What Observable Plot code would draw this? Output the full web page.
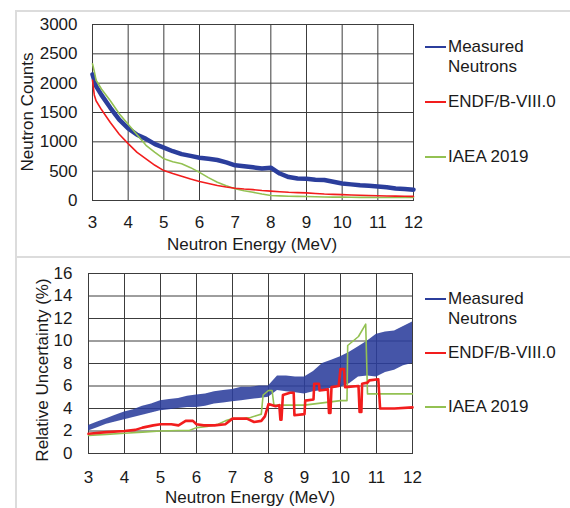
<!DOCTYPE html>
<html>
<head>
<meta charset="utf-8">
<script src="https://cdn.jsdelivr.net/npm/d3@7"></script>
<script src="https://cdn.jsdelivr.net/npm/@observablehq/plot@0.6"></script>
<style>
  html, body { margin: 0; padding: 0; background: #fff; }
  #wrap { position: relative; width: 570px; height: 508px; overflow: hidden; font-family: "Liberation Sans", Arial, sans-serif; color: #1a1a1a; }
  .abs { position: absolute; }
  .lbl { position: absolute; font-size: 17px; white-space: nowrap; }
  .leg { position: absolute; font-size: 17px; line-height: 20px; white-space: nowrap; }
  .sw { position: absolute; height: 2px; width: 21px; }
</style>
</head>
<body>
<div id="wrap"></div>
<script>
// ---------- Top panel: neutron counts ----------
const countsE = [3, 3.05, 3.1, 3.25, 3.5, 3.75, 4, 4.25, 4.5, 4.75, 5, 5.25, 5.5, 5.75, 6, 6.25, 6.5, 6.75, 7, 7.25, 7.5, 7.75, 8, 8.25, 8.5, 8.75, 9, 9.25, 9.5, 9.75, 10, 10.25, 10.5, 10.75, 11, 11.25, 11.5, 11.75, 12];
const measuredCounts = [2150, 2050, 1950, 1800, 1580, 1380, 1230, 1120, 1050, 960, 900, 840, 790, 760, 730, 710, 690, 650, 600, 585, 565, 545, 560, 460, 400, 375, 370, 355, 350, 320, 290, 275, 260, 250, 240, 225, 205, 195, 185];
const endfCounts = [2050, 1800, 1700, 1550, 1330, 1130, 970, 820, 710, 600, 510, 460, 415, 365, 325, 290, 255, 230, 210, 195, 185, 170, 160, 150, 140, 135, 130, 120, 110, 105, 100, 95, 90, 85, 80, 77, 75, 72, 70];
const iaeaCounts = [2330, 2200, 2050, 1900, 1700, 1480, 1300, 1120, 940, 820, 710, 660, 625, 560, 480, 390, 310, 250, 200, 165, 140, 110, 85, 78, 72, 70, 68, 64, 60, 58, 57, 55, 54, 53, 52, 51, 50, 50, 50];
const countTicks = [0, 500, 1000, 1500, 2000, 2500, 3000];

// ---------- Bottom panel: relative uncertainty ----------
const uncE = [3, 3.25, 3.5, 3.75, 4, 4.25, 4.5, 4.75, 5, 5.25, 5.5, 5.75, 6, 6.25, 6.5, 6.75, 7, 7.25, 7.5, 7.75, 8, 8.25, 8.5, 8.75, 9, 9.25, 9.5, 9.75, 10, 10.25, 10.5, 10.75, 11, 11.25, 11.5, 11.75, 12];
const measuredUncLow = [2.0, 2.3, 2.6, 2.8, 3.0, 3.2, 3.4, 3.6, 3.8, 3.9, 4.0, 4.1, 4.1, 4.2, 4.4, 4.5, 4.6, 4.7, 4.8, 4.9, 5.0, 5.6, 5.5, 5.4, 5.3, 5.5, 5.6, 5.8, 5.9, 6.2, 6.8, 6.9, 6.8, 7.2, 7.4, 7.8, 8.0];
const measuredUncHigh = [2.5, 2.8, 3.1, 3.4, 3.7, 3.9, 4.2, 4.4, 4.7, 4.8, 4.9, 5.1, 5.2, 5.3, 5.5, 5.6, 5.7, 5.9, 5.9, 6.0, 6.0, 6.9, 6.9, 6.8, 6.8, 7.3, 8.0, 8.3, 8.6, 9.0, 9.5, 10.0, 10.6, 10.8, 10.9, 11.3, 11.7];
const endfUncE = [3, 3.5, 4, 4.3, 4.5, 4.8, 5, 5.3, 5.5, 5.7, 5.9, 6.0, 6.2, 6.5, 6.8, 7.0, 7.4, 7.6, 7.8, 7.9, 8.0, 8.2, 8.3, 8.33, 8.36, 8.4, 8.6, 8.7, 8.72, 9.0, 9.02, 9.25, 9.27, 9.4, 9.42, 9.65, 9.68, 9.72, 9.75, 9.95, 10.0, 10.1, 10.13, 10.5, 10.53, 10.58, 10.6, 10.75, 10.8, 11.05, 11.1, 11.5, 12];
const endfUnc = [1.75, 1.9, 2.0, 2.1, 2.3, 2.5, 2.6, 2.6, 2.5, 2.9, 2.9, 2.6, 2.5, 2.5, 2.6, 3.1, 3.1, 2.8, 2.9, 3.3, 4.4, 4.2, 4.3, 3.0, 3.0, 5.2, 5.4, 5.4, 3.4, 3.5, 4.7, 4.8, 6.2, 6.2, 5.6, 5.7, 3.6, 3.6, 5.9, 6.0, 7.5, 7.5, 5.9, 6.0, 3.7, 3.7, 6.2, 6.3, 6.5, 6.6, 4.0, 4.0, 4.1];
const iaeaUncE = [3, 3.5, 4, 4.5, 5, 5.5, 5.8, 6.0, 6.3, 6.6, 6.8, 7.0, 7.3, 7.5, 7.7, 7.8, 7.85, 8.0, 8.1, 8.15, 8.5, 9.0, 9.5, 10.0, 10.18, 10.2, 10.5, 10.7, 10.75, 11, 12];
const iaeaUnc = [1.6, 1.7, 1.8, 1.9, 2.0, 2.05, 2.05, 2.3, 2.4, 2.6, 2.9, 3.1, 3.1, 3.2, 3.4, 3.5, 5.2, 5.6, 5.6, 4.3, 4.3, 4.3, 4.5, 4.7, 4.7, 9.6, 10.4, 11.5, 5.3, 5.3, 5.3];
const uncTicks = [0, 2, 4, 6, 8, 10, 12, 14, 16];

const energyTicks = [3, 4, 5, 6, 7, 8, 9, 10, 11, 12];
const seriesNames = ["Measured Neutrons", "ENDF/B-VIII.0", "IAEA 2019"];
const colors = { blue: "#2b3e9c", red: "#f21d1d", green: "#93c152" };

const wrap = document.getElementById("wrap");
const font = "'Liberation Sans', Arial, sans-serif";
const gridColor = "#3c3c3c";

function zip(xs, ys) { return xs.map((x, i) => ({ x, y: ys[i] })); }

// Top chart
const top1 = Plot.plot({
  width: 570, height: 250,
  marginLeft: 92, marginRight: 157, marginTop: 24, marginBottom: 50,
  style: { fontFamily: font, fontSize: "17px", color: "#1a1a1a", background: "transparent" },
  x: { domain: [3, 12], ticks: energyTicks, tickFormat: d => String(d), label: null, tickSize: 0, tickPadding: 15 },
  y: { domain: [0, 3000], ticks: countTicks, tickFormat: d => String(d), label: null, tickSize: 0, tickPadding: 15 },
  marks: [
    Plot.gridX(energyTicks, { stroke: gridColor, strokeOpacity: 1, strokeWidth: 1 }),
    Plot.gridY(countTicks, { stroke: gridColor, strokeOpacity: 1, strokeWidth: 1 }),
    Plot.frame({ stroke: gridColor }),
    Plot.line(zip(countsE, measuredCounts), { x: "x", y: "y", stroke: colors.blue, strokeWidth: 4.5 }),
    Plot.line(zip(countsE, iaeaCounts), { x: "x", y: "y", stroke: colors.green, strokeWidth: 1.6 }),
    Plot.line(zip(countsE, endfCounts), { x: "x", y: "y", stroke: colors.red, strokeWidth: 1.6 })
  ]
});
top1.style.position = "absolute"; top1.style.left = "0px"; top1.style.top = "0px";
wrap.appendChild(top1);

// Bottom chart
const bot = Plot.plot({
  width: 570, height: 258,
  marginLeft: 88, marginRight: 158, marginTop: 23, marginBottom: 55,
  style: { fontFamily: font, fontSize: "17px", color: "#1a1a1a", background: "transparent" },
  x: { domain: [3, 12], ticks: energyTicks, tickFormat: d => String(d), label: null, tickSize: 0, tickPadding: 17 },
  y: { domain: [0, 16], ticks: uncTicks, tickFormat: d => String(d), label: null, tickSize: 0, tickPadding: 16 },
  marks: [
    Plot.gridX(energyTicks, { stroke: gridColor, strokeOpacity: 1, strokeWidth: 1 }),
    Plot.gridY(uncTicks, { stroke: gridColor, strokeOpacity: 1, strokeWidth: 1 }),
    Plot.frame({ stroke: gridColor }),
    Plot.areaY(uncE.map((x, i) => ({ x, lo: measuredUncLow[i], hi: measuredUncHigh[i] })), { x: "x", y1: "lo", y2: "hi", fill: colors.blue, fillOpacity: 0.88 }),
    Plot.line(zip(iaeaUncE, iaeaUnc), { x: "x", y: "y", stroke: colors.green, strokeWidth: 1.6 }),
    Plot.line(zip(endfUncE, endfUnc), { x: "x", y: "y", stroke: colors.red, strokeWidth: 2.6 })
  ]
});
bot.style.position = "absolute"; bot.style.left = "0px"; bot.style.top = "250px";
wrap.appendChild(bot);

// Figure frame lines
function box(l, t, w, h, bg) {
  const d = document.createElement("div");
  d.className = "abs";
  Object.assign(d.style, { left: l + "px", top: t + "px", width: w + "px", height: h + "px", background: bg });
  wrap.appendChild(d);
}
box(15, 10, 555, 1.5, "#dcdcdc");
box(15, 10, 1.5, 498, "#dcdcdc");
box(15, 256, 555, 2, "#dcdcdc");

// Axis titles
function label(text, cx, cy, rotate) {
  const d = document.createElement("div");
  d.className = "lbl";
  d.textContent = text;
  wrap.appendChild(d);
  const w = d.offsetWidth, h = d.offsetHeight;
  d.style.left = (cx - w / 2) + "px";
  d.style.top = (cy - h / 2) + "px";
  if (rotate) d.style.transform = "rotate(-90deg)";
}
label("Neutron Energy (MeV)", 252, 245, false);
label("Neutron Counts", 27, 112, true);
label("Neutron Energy (MeV)", 250, 498, false);
label("Relative Uncertainty (%)", 42, 370, true);

// Legends
function legend(items) {
  items.forEach(it => {
    const s = document.createElement("div");
    s.className = "sw";
    Object.assign(s.style, { left: "425px", top: (it.y - 1) + "px", background: it.color });
    wrap.appendChild(s);
    it.lines.forEach((t, k) => {
      const d = document.createElement("div");
      d.className = "leg";
      d.textContent = t;
      Object.assign(d.style, { left: "448px", top: (it.y - 10 + k * 20) + "px" });
      wrap.appendChild(d);
    });
  });
}
legend([
  { y: 47, color: colors.blue, lines: ["Measured", "Neutrons"] },
  { y: 102, color: colors.red, lines: [seriesNames[1]] },
  { y: 157, color: colors.green, lines: [seriesNames[2]] }
]);
legend([
  { y: 299, color: colors.blue, lines: ["Measured", "Neutrons"] },
  { y: 353, color: colors.red, lines: [seriesNames[1]] },
  { y: 407, color: colors.green, lines: [seriesNames[2]] }
]);
</script>
</body>
</html>
